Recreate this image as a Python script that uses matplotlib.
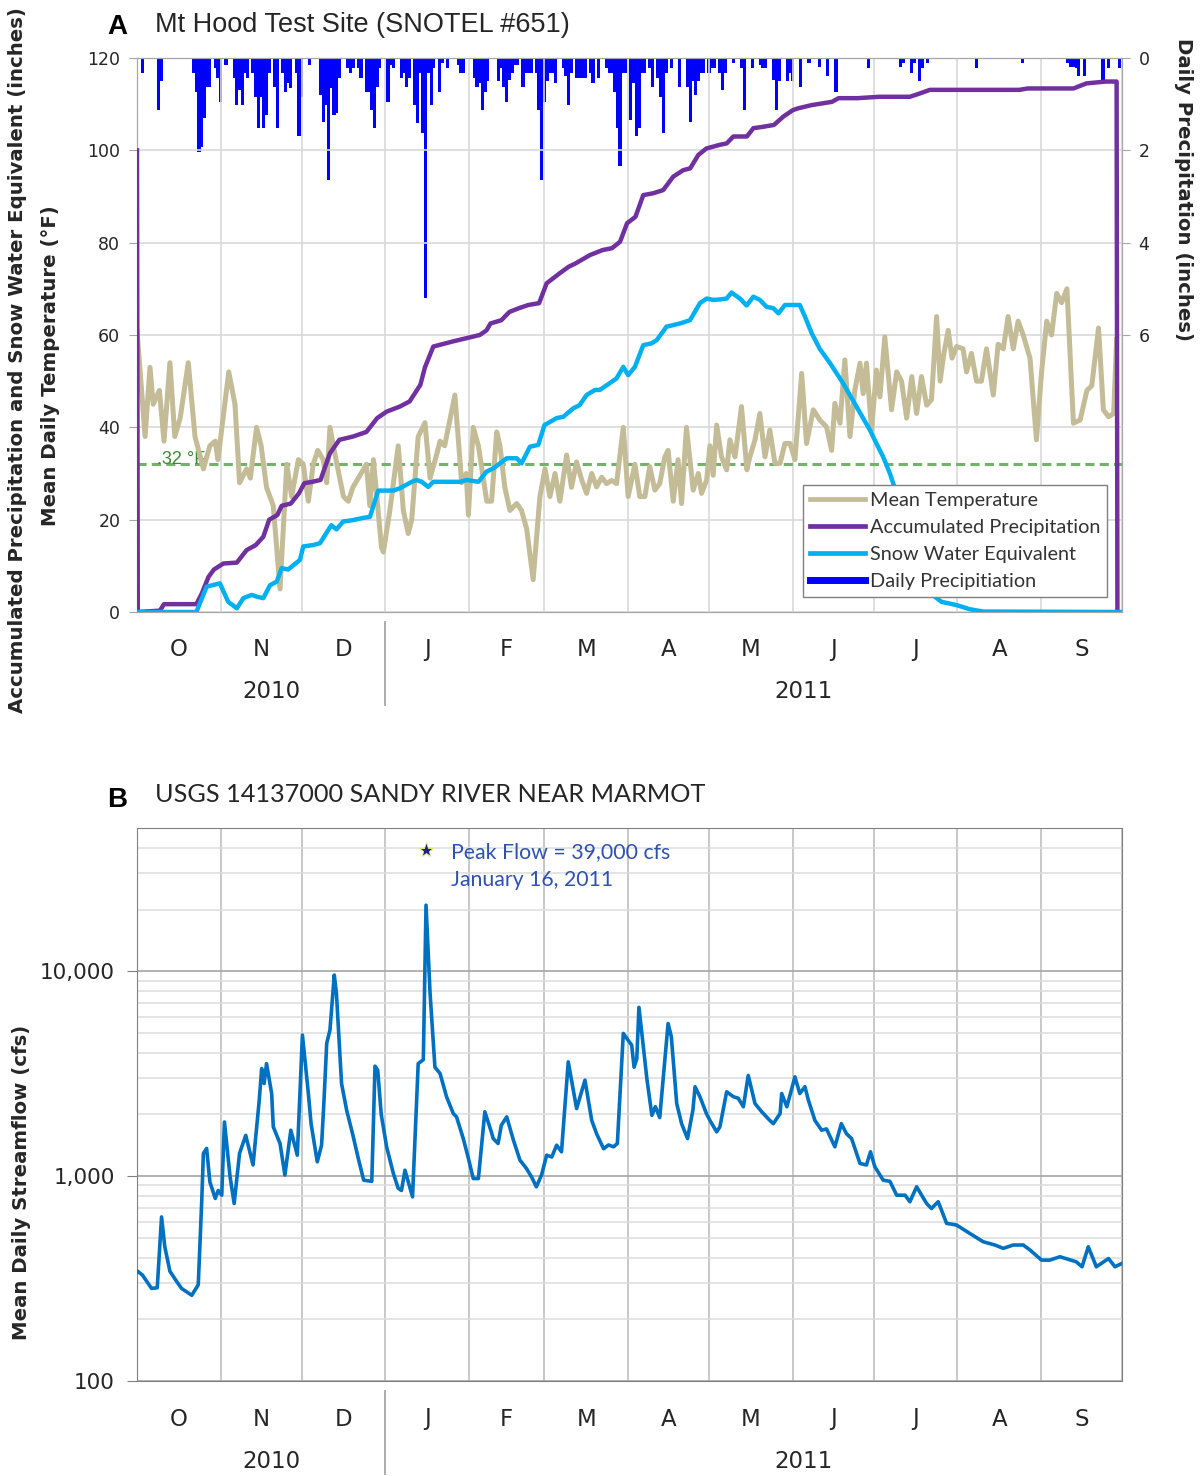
import matplotlib.pyplot as plt
import matplotlib.ticker as mticker
import matplotlib.transforms as mtrans
from matplotlib.lines import Line2D

# --- dias contados desde el 1 de octubre de 2010 (ano hidrologico 2011) ---
month_starts = [0, 31, 61, 92, 123, 151, 182, 212, 243, 273, 304, 335, 365]
month_letters = ['O', 'N', 'D', 'J', 'F', 'M', 'A', 'M', 'J', 'J', 'A', 'S']
year_labels = ['2010', '2011']
year_label_days = [50, 247]
year_split_day = 92

# Temperatura media diaria (F)
temp_days = [0, 3, 4.8, 6, 8.3, 10, 12.2, 14, 16, 19, 21.5, 24.6, 27, 29, 30, 34, 36.3, 38,
             40.6, 42, 44.3, 46, 48, 50.5, 53, 55.5, 57.3, 59.8, 61.6, 63.5, 65.3, 67, 69,
             70.3, 71.5, 73.4, 76.5, 78.3, 80, 82, 85, 86.3, 87.6, 90.6, 91.3, 93.7, 96.8,
             98.7, 100.5, 101.8, 104.2, 106.7, 108.6, 111, 112.3, 114, 117.8, 120.3, 122,
             122.8, 124.6, 126.5, 129.6, 131.4, 133.3, 134.5, 136.3, 138.2, 140.7, 142.5,
             144.4, 146.8, 149.3, 151.2, 153, 154.9, 156.7, 159.2, 161, 162.9, 164.8, 166.6,
             168.5, 170.3, 172.2, 174, 175.9, 177.7, 180.2, 182, 184.5, 186.3, 188.2, 190,
             191.9, 193.7, 195.6, 196.8, 198.7, 200.5, 201.8, 203.6, 206.1, 208, 209.2,
             211.1, 212.3, 213.5, 214.8, 216.6, 218.5, 219.7, 221.6, 224, 226, 227.1, 229,
             230.8, 232.7, 234.5, 236.4, 238.3, 240.1, 242, 243.8, 246.3, 248.1, 250.6, 253,
             255.5, 257.4, 258.6, 260.5, 262.3, 264.2, 266, 267.9, 269.1, 270.3, 272.2, 274,
             275.3, 277.1, 279.6, 281.5, 283.3, 285.2, 287.1, 288.9, 290.7, 292.6, 294.4,
             296.3, 297.6, 299, 300.6, 302, 303.7, 306.1, 307.4, 309.2, 311.1, 312.9, 314.8,
             317.3, 319.1, 321, 322.8, 324.7, 326.5, 328.4, 330.9, 333.3, 335.2, 337.1,
             338.9, 340.8, 342.6, 344.6, 347, 349.5, 352, 353.8, 356.3, 358.1, 360, 361.9, 363]
temp_f = [61, 38, 53, 45, 48, 37, 54, 38, 42, 54, 38, 31, 36, 37, 33, 52, 45, 28,
          31, 29, 40, 36, 27, 23, 5, 32, 25, 33, 32, 24, 32, 35, 33,
          28, 40, 34, 25, 24, 27, 29, 32, 23, 33, 14, 13, 22, 36,
          22, 17, 20, 38, 41, 29, 34, 37, 36, 47, 28, 30,
          21, 40, 36, 24, 24, 39, 36, 27, 22, 23.5, 22,
          18, 7, 25, 31, 25, 30, 24, 34, 27, 32.5, 28.6, 25.7,
          30, 27.1, 29.2, 27.8, 28.5, 27.8, 40, 25, 32, 25, 25, 31.5,
          26.4, 27.8, 33.6, 35, 24, 33, 23.5, 40, 26.4, 30, 25.7,
          28.6, 36, 29.6, 40.5, 33.6, 30.8, 37.3, 33.6, 44.5, 30.8, 33.6, 37.3,
          43, 33.6, 39.4, 32.2, 32.2, 36.5, 36.5, 33, 51.7, 36.5, 43.8, 41.6,
          40.1, 35, 45.2, 40.9, 54.6, 38, 48, 53.9, 47.3, 53.9, 39.4, 52.4,
          46.6, 59.6, 43.8, 52, 50, 42, 51, 43, 51, 44.8, 46,
          64, 50, 56, 61, 55, 57.5, 57, 52, 56, 50, 50, 57,
          47, 58, 57, 64, 57, 63, 60, 55, 37.3, 52, 63,
          60, 69, 67, 70, 40.9, 41.6, 48, 49, 61.5, 43.8, 42.3, 43, 59]

# Precipitacion acumulada (pulgadas)
acc_days = [0, 0.3, 8.5, 10, 22, 24, 26.5, 28.5, 32, 37, 40.6, 44, 46.8, 49, 52, 53.6,
            57, 60, 62, 65, 68, 71.5, 75, 80, 85, 89, 92.5, 97.4, 101, 105, 106.7, 109.8,
            117, 122, 127, 129.5, 131, 135, 138, 141.5, 145, 149, 151.8, 156.7, 160, 162.5,
            167.8, 172.5, 176, 179, 181.6, 184.7, 187.6, 191.3, 195, 198.7, 202.4, 205, 208,
            211, 216, 218.5, 221, 226, 228.4, 232, 236, 239.5, 243, 245, 250, 257.5, 260,
            267, 275, 286.4, 290, 293.8, 327, 330, 347, 351.8, 359, 363, 363.3]
acc_in = [100, 0, 0.3, 1.7, 1.7, 4, 7.6, 9.2, 10.5, 10.7, 13.4, 14.5, 16.3, 20, 21, 23,
          23.5, 25.7, 27.9, 28.2, 28.6, 34.4, 37.3, 38, 39, 42, 43.4, 44.5, 45.6, 49.2, 53, 57.5,
          58.6, 59.3, 60, 61, 62.5, 63.2, 65, 65.8, 66.5, 66.9, 71.2, 73.4, 74.8, 75.5,
          77.3, 78.4, 78.8, 80.2, 84.2, 85.6, 90.3, 90.7, 91.4, 94.3, 95.7, 96.1, 99,
          100.4, 101.2, 101.5, 103, 103, 104.8, 105.1, 105.5, 107.3, 108.7, 109.1, 109.8, 110.5, 111.3,
          111.3, 111.6, 111.6, 112.3, 113.1, 113.1, 113.4, 113.4, 114.5, 114.9, 114.9, 0]

# Equivalente en agua de nieve (pulgadas)
swe_days = [0, 22, 25.8, 30.7, 33.8, 37, 39.4, 42.5, 44.5, 46.8, 49.3, 51.8, 53.6, 56,
            60.4, 61.6, 65.3, 67.8, 72, 73.9, 76.4, 80, 83.9, 86.3, 89.4, 95, 97.4, 101.8,
            103.6, 105.5, 107.9, 109.8, 119.7, 122.2, 126.5, 129.5, 132, 137, 140.7, 142.5,
            145.6, 148.7, 151, 155.5, 158, 161.6, 164, 166.6, 169.7, 171.5, 175, 177.7,
            180.2, 182, 184.5, 187.6, 190.7, 192.6, 196.2, 201.2, 204.9, 208.6, 211.1,
            213.5, 216, 218.5, 220.3, 223.4, 225.9, 228.4, 230.8, 233.3, 235.8, 237.7,
            240.1, 245.6, 247.5, 250, 253, 256.8, 261.7, 266.6, 271.6, 274, 276.5, 279,
            281.5, 295.7, 298.1, 303.7, 308.6, 313.5, 365]
swe_in = [0, 0, 5.5, 6.2, 2.2, 0.8, 3, 3.7, 3.3, 3, 5.8, 6.6, 9.5, 9.2,
          11.3, 14.2, 14.5, 14.9, 18.8, 17.9, 19.6, 19.9, 20.4, 20.6, 26.3, 26.3, 26.8, 28.2,
          28.6, 28.2, 27.1, 28.2, 28.2, 28.6, 28.2, 30.4, 31.1, 33.3, 33.3, 32.2,
          35.8, 36.2, 40.5, 42, 42.3, 44.1, 44.8, 47, 48.1, 48.1, 49.5, 50.6,
          53.1, 51.3, 53.1, 57.8, 58.2, 58.9, 61.8, 62.5, 63.2, 66.9, 67.9,
          67.6, 67.7, 67.9, 69.2, 67.9, 66.4, 68.3, 67.6, 66.1, 65.8, 64.7,
          66.5, 66.5, 64, 60.4, 57, 53.9, 49.5, 44.5, 39.4, 36.5, 33.6, 30,
          25.6, 3.3, 2.2, 1.5, 0.6, 0.1, 0]

# Precipitacion diaria (pulgadas)
precip_days = [2, 8, 9, 21, 22, 23, 24, 25, 26, 27, 29, 30, 31, 33, 36, 37, 38, 39, 40, 41,
               43, 44, 45, 46, 47, 48, 49, 51, 52, 54, 55, 56, 57, 59, 60, 61, 64, 68, 69, 70,
               71, 72, 73, 74, 75, 78, 79, 80, 82, 83, 85, 86, 87, 88, 89, 90, 93, 94, 95, 98,
               99, 100, 101, 103, 104, 105, 106, 107, 108, 109, 110, 112, 113, 115, 119, 120,
               121, 125, 126, 127, 128, 129, 130, 134, 135, 136, 137, 138, 139, 140, 141, 143,
               144, 145, 146, 148, 149, 150, 151, 152, 153, 154, 155, 158, 159, 160, 161, 163,
               164, 165, 166, 168, 169, 171, 174, 175, 176, 177, 178, 179, 180, 181, 183, 184,
               185, 186, 187, 188, 190, 191, 193, 194, 195, 196, 198, 201, 204, 205, 206, 207,
               208, 209, 210, 212, 213, 214, 216, 217, 218, 221, 224, 225, 228, 231, 232, 233,
               236, 237, 238, 241, 242, 243, 246, 249, 253, 256, 259, 271, 283, 284, 287, 288,
               290, 291, 293, 311, 328, 345, 346, 347, 348, 349, 351, 358, 360, 364]
precip_in = [0.33, 1.13, 0.5, 0.33, 0.73, 2.03, 1.92, 1.3, 0.62, 0.62, 0.22, 0.44, 0.95, 0.15, 0.44, 1.02, 0.69, 1.02, 0.33, 0.44,
             0.33, 0.84, 1.52, 0.84, 1.52, 1.23, 0.33, 0.62, 1.52, 0.33, 0.73, 0.55, 0.66, 0.33, 1.7, 0.84, 0.15, 0.8, 1.38, 1.02,
             2.64, 0.66, 1.23, 1.2, 0.44, 0.22, 0.33, 0.22, 0.22, 0.44, 0.73, 0.73, 1.13, 1.52, 0.62, 0.22, 0.95, 0.15, 0.22, 0.44,
             0.33, 0.62, 0.44, 1.02, 1.41, 0.33, 1.63, 5.2, 0.33, 1.02, 0.22, 0.73, 0.1, 0.22, 0.15, 0.33,
             0.33, 0.44, 0.62, 0.55, 1.13, 0.73, 0.5, 0.5, 0.22, 0.62, 0.95, 0.48, 0.33, 0.15, 0.15, 0.62,
             0.33, 0.33, 0.33, 0.33, 1.13, 2.64, 0.95, 0.5, 0.33, 0.33, 0.55, 0.22, 0.4, 1.02, 0.33, 0.44,
             0.44, 0.44, 0.44, 0.33, 0.55, 0.44, 0.22, 0.33, 0.33, 0.73, 1.52, 2.35, 0.33, 0.33, 1.34, 0.55,
             1.7, 1.52, 0.33, 0.33, 0.22, 0.62, 0.44, 0.84, 1.63, 0.33, 0.22, 0.62, 0.62, 1.38, 0.5, 0.8,
             0.5, 0.33, 0.33, 0.33, 0.22, 0.22, 0.33, 0.69, 0.33, 0.1, 0.22, 1.13, 0.22, 0.15, 0.22, 0.22,
             0.48, 1.13, 0.5, 0.5, 0.33, 0.5, 0.62, 0.1, 0.19, 0.4, 0.73, 0.22, 0.19, 0.1, 0.33, 0.1,
             0.5, 0.22, 0.1, 0.22, 0.1, 0.1, 0.19, 0.19, 0.22, 0.4, 0.4, 0.5, 0.22, 0.22]

# Caudal medio diario, USGS 14137000 (cfs)
flow_days = [0, 2, 5.4, 7.5, 9.1, 10.3, 12.2, 14.7, 16.5, 20.3, 22.7, 24, 24.6, 25.8, 27, 29,
             30.1, 31.4, 32.4, 34.5, 36, 38, 40.3, 43, 45.3, 46.2, 47.1, 48, 49.9, 50.5, 53,
             54.8, 57, 59.4, 61.3, 63.5, 64.5, 66.8, 68.4, 69.3, 70.3, 71.5, 73.1, 73.9, 75.8,
             77.7, 80, 82, 84, 87, 88.2, 89.2, 90.5, 92.5, 95, 96.8, 98, 99.3, 102.1, 104.2,
             106.1, 107.1, 108.6, 110.4, 112.3, 114.7, 117.2, 118.4, 120.9, 122.8, 124.6,
             126.5, 128.9, 131.3, 132, 133.8, 135, 137, 139.5, 141.9, 144.3, 146.2, 148, 149.9,
             151.8, 153.7, 155.5, 157.3, 159.8, 162.9, 166, 168.5, 170.3, 172.9, 174.7, 176.6,
             178, 180.2, 181.5, 183.3, 184.2, 185.2, 186, 187.6, 189, 190.8, 192.1, 193.7,
             196.8, 198, 200, 201.8, 204, 206, 206.8, 208.6, 211, 212.3, 214.8, 216, 218.5,
             221, 222.8, 224.7, 226.5, 229, 231.5, 234.5, 235.8, 238.3, 238.9, 240.8, 243.8,
             245.6, 247.5, 248.8, 251.2, 253.7, 255.5, 258.6, 261, 262.9, 264.8, 267.9, 270.3,
             271.8, 273.4, 276.5, 279, 281.5, 284.6, 286.4, 288.9, 292.6, 294.4, 296.9, 300,
             303.7, 308.6, 313.6, 317.9, 321, 324.7, 328.4, 330.9, 335.2, 338.2, 342, 348,
             350.2, 352.5, 355.5, 360, 362.4, 365]
flow_cfs = [345, 329, 283, 285, 632, 452, 343, 306, 283, 262, 295, 764, 1291, 1365, 938, 778,
            851, 807, 1836, 991, 735, 1291, 1581, 1133, 2344, 3350, 2830, 3540, 2530, 1740, 1443,
            1012, 1675, 1265, 4880, 2530, 1803, 1174, 1419, 2344, 4447, 5160, 9580, 7800, 2830,
            2094, 1585, 1220, 955, 943, 3440, 3290, 2000, 1390, 1030, 871, 851, 1069, 792, 3540,
            3700, 21000, 7800, 3400, 3170, 2440, 2020, 1946, 1525, 1220, 973,
            973, 2060, 1644, 1525, 1443, 1770, 1946, 1496, 1197, 1090, 991, 887, 1012,
            1265, 1240, 1416, 1314, 3610, 2136, 2940, 1870, 1610, 1360, 1419, 1390,
            1443, 4970, 4700, 4360, 3400, 3740, 6660, 4290, 2940, 1980, 2180, 1930,
            5560, 4790, 2260, 1803, 1525, 2100, 2730, 2440, 2020, 1870, 1644, 1740, 2580,
            2440, 2400, 2180, 3100, 2260, 2060, 1870, 1803, 2020, 2530, 2180, 3050,
            2530, 2730, 2344, 1870, 1675, 1700, 1390, 1803, 1610, 1525, 1153, 1133,
            1314, 1112, 955, 943, 807, 807, 750, 887, 735, 695, 750, 588,
            577, 525, 478, 461, 444, 461, 461, 436, 389, 389, 404, 382,
            361, 452, 361, 396, 361, 375]

peak_day = 107
peak_cfs = 39000

GRID = '#d9d9d9'
SPINE = '#a6a6a6'
TXT = '#262626'

plt.rcParams['font.family'] = ['DejaVu Sans']

fig = plt.figure(figsize=(12.01, 14.76), dpi=100)
W, H = 1201, 1476

axA = fig.add_axes([137 / W, 1 - 612 / H, 985 / W, 554 / H])
axP = axA.twinx()
axA.set_zorder(axP.get_zorder() + 1)
axA.patch.set_visible(False)

# barras de precipitacion colgando desde arriba
axP.bar(precip_days, precip_in, width=1.2, color='#0000ff', linewidth=0)
axP.set_ylim(12, 0)
axP.set_yticks([0, 2, 4, 6])
axP.tick_params(axis='y', labelsize=12.5, colors=TXT, length=6, color=SPINE, pad=6)

axA.axhline(32, color='#72b26a', lw=2.2, linestyle=(0, (3, 1.7)), zorder=2)
axA.text(7.5, 33, '.32 °F', color='#3a8a35', fontsize=13, va='center', ha='left',
         family=['Liberation Sans'])
axA.plot(temp_days, temp_f, color='#c4bc96', lw=3.6, zorder=3, solid_joinstyle='round')
axA.plot(acc_days, acc_in, color='#7030a0', lw=3.2, zorder=4)
axA.plot(swe_days, swe_in, color='#00b0f0', lw=3.2, zorder=5)

axA.set_xlim(0, 365)
axA.set_ylim(0, 120)
axA.set_yticks(range(0, 121, 20))
axA.set_xticks(month_starts)
axA.set_xticklabels([])
axA.tick_params(axis='x', length=0)
axA.tick_params(axis='y', labelsize=12.5, colors=TXT, length=6, color=SPINE, pad=6)
axA.grid(True, color=GRID, lw=1.2)
for ax in (axA, axP):
    for s in ax.spines.values():
        s.set_color(SPINE)

handles = [Line2D([], [], color='#c4bc96', lw=3.4),
           Line2D([], [], color='#7030a0', lw=3.4),
           Line2D([], [], color='#00b0f0', lw=3.4),
           Line2D([], [], color='#0000ff', lw=5)]
leg = axA.legend(handles, ['Mean Temperature', 'Accumulated Precipitation',
                           'Snow Water Equivalent', 'Daily Precipitiation'],
                 loc='lower right', bbox_to_anchor=(0.985, 0.027), fancybox=False,
                 framealpha=1, edgecolor='#808080', handlelength=2.75, handletextpad=0.25,
                 labelspacing=0.5, borderpad=0.35, borderaxespad=0,
                 prop={'family': 'Lato', 'size': 14.3})
leg.set_zorder(10)
for t in leg.get_texts():
    t.set_color('#333333')

# --- panel B ---
axB = fig.add_axes([137 / W, 1 - 1381 / H, 985 / W, 553 / H])
axB.plot(flow_days, flow_cfs, color='#0070c0', lw=2.6, zorder=3, solid_joinstyle='round')
axB.plot([peak_day], [peak_cfs], marker='*', ms=11, color='#1c1c9c', mec='#f2f25a', mew=0.6,
         zorder=4)
axB.text(116.5, 38000, 'Peak Flow = 39,000 cfs', color='#2f52b0', fontsize=15.3,
         family=['Lato'], va='center', ha='left')
axB.text(116.5, 27800, 'January 16, 2011', color='#2f52b0', fontsize=15.3,
         family=['Lato'], va='center', ha='left')
axB.set_yscale('log')
axB.set_xlim(0, 365)
axB.set_ylim(100, 50000)
axB.set_yticks([100, 1000, 10000])
axB.yaxis.set_major_formatter(mticker.FuncFormatter(lambda v, p: f'{int(v):,}'))
axB.yaxis.set_minor_locator(mticker.LogLocator(base=10, subs=range(2, 10)))
axB.yaxis.set_minor_formatter(mticker.NullFormatter())
axB.set_xticks(month_starts)
axB.set_xticklabels([])
axB.tick_params(axis='x', length=0)
axB.tick_params(axis='y', which='major', labelsize=15.5, colors=TXT, length=7,
                color='#808080', pad=9)
axB.tick_params(axis='y', which='minor', length=0)
axB.grid(True, which='major', axis='y', color='#a6a6a6', lw=1.2)
axB.grid(True, which='minor', axis='y', color='#dcdcdc', lw=1.1)
axB.grid(True, which='major', axis='x', color='#bfbfbf', lw=1.2)
for s in axB.spines.values():
    s.set_color('#808080')

# etiquetas de meses, anios y separador
for ax in (axA, axB):
    trans = mtrans.blended_transform_factory(ax.transData, ax.transAxes)
    frac = 1.0 / (ax.get_position().height * H)
    for i, letter in enumerate(month_letters):
        mid = (month_starts[i] + month_starts[i + 1]) / 2
        ax.text(mid, -38 * frac, letter, transform=trans, ha='center', va='center',
                fontsize=16.5, color=TXT)
    for lab, d in zip(year_labels, year_label_days):
        ax.text(d, -80 * frac, lab, transform=trans, ha='center', va='center',
                fontsize=16.5, color=TXT)
    ax.plot([year_split_day, year_split_day], [-10 * frac, -93 * frac], transform=trans,
            clip_on=False, color='#a6a6a6', lw=1.3)

# titulos y etiquetas de ejes
fig.text(117 / W, 1 - 27 / H, 'A', fontsize=20, fontweight='bold', ha='center', va='center',
         family=['Liberation Sans'])
fig.text(155 / W, 1 - 25 / H, 'Mt Hood Test Site (SNOTEL #651)', fontsize=19.5, ha='left',
         va='center', family=['Liberation Sans'], color=TXT)
fig.text(117 / W, 1 - 800 / H, 'B', fontsize=20, fontweight='bold', ha='center', va='center',
         family=['Liberation Sans'])
fig.text(155 / W, 1 - 795 / H, 'USGS 14137000 SANDY RIVER NEAR MARMOT', fontsize=18.2,
         ha='left', va='center', family=['Lato'], color=TXT)

fig.text(18 / W, 1 - 360 / H, 'Accumulated Precipitation and Snow Water Equivalent (inches)',
         rotation=90, fontsize=14.2, fontweight='bold', ha='center', va='center', color=TXT)
fig.text(51 / W, 1 - 366 / H, 'Mean Daily Temperature (°F)', rotation=90, fontsize=14.2,
         fontweight='bold', ha='center', va='center', color=TXT)
fig.text(1184 / W, 1 - 190 / H, 'Daily Precipitation (inches)', rotation=270, fontsize=14.2,
         fontweight='bold', ha='center', va='center', color=TXT)
fig.text(22 / W, 1 - 1182 / H, 'Mean Daily Streamflow (cfs)', rotation=90, fontsize=14.2,
         fontweight='bold', ha='center', va='center', color=TXT)

fig.savefig('out.png', dpi=100)
